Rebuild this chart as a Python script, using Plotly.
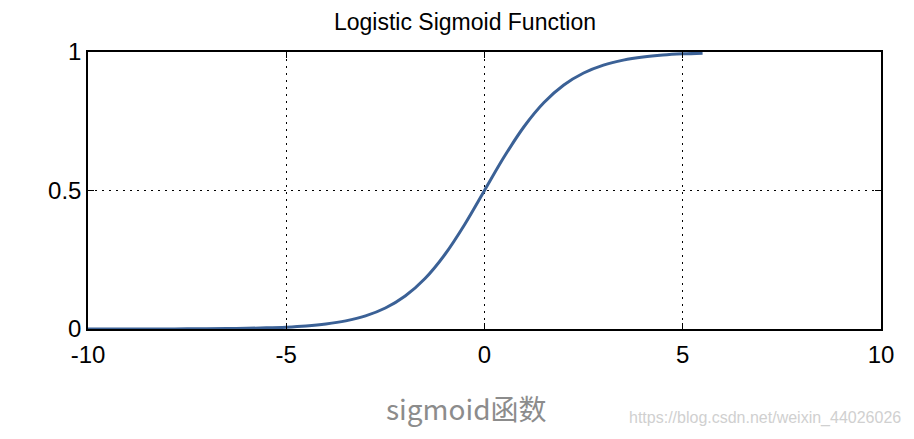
import plotly.graph_objects as go

x_vals = [-10, -9.5, -9, -8.5, -8, -7.5, -7, -6.5, -6, -5.5, -5, -4.5, -4, -3.5,
          -3, -2.5, -2, -1.5, -1, -0.5, 0, 0.5, 1, 1.5, 2, 2.5, 3, 3.5, 4, 4.5, 5, 5.5]
y_vals = [0.0000454, 0.0000749, 0.000123, 0.000203, 0.000335, 0.000553, 0.000911,
          0.0015, 0.00247, 0.00407, 0.00669, 0.0110, 0.0180, 0.0293, 0.0474, 0.0759,
          0.1192, 0.1824, 0.2689, 0.3775, 0.5, 0.6225, 0.7311, 0.8176, 0.8808, 0.9241,
          0.9526, 0.9707, 0.9820, 0.9890, 0.9933, 0.9959]

x_ticks = [-10, -5, 0, 5, 10]
x_tick_labels = ["-10", "-5", "0", "5", "10"]
y_ticks = [0, 0.5, 1]
y_tick_labels = ["0", "0.5", "1"]

LINE_BLUE = "#3b6196"
FONT = "Liberation Sans, Arial, sans-serif"

fig = go.Figure()
fig.add_trace(go.Scatter(
    x=x_vals, y=y_vals, mode="lines", line=dict(color=LINE_BLUE, width=3, shape="spline"),
    hoverinfo="skip", showlegend=False,
))

axis_common = dict(
    showline=True, linecolor="black", linewidth=1.5, mirror="ticks",
    ticks="inside", ticklen=6, tickcolor="black", tickwidth=1,
    showgrid=True, gridcolor="black", griddash="2px,5px", gridwidth=1,
    zeroline=False, tickfont=dict(family=FONT, size=24, color="black"),
)

# page body has an 8px margin, so margins are shifted to compensate
fig.update_layout(
    width=914, height=439,
    margin=dict(l=80, r=41, t=44, b=118),
    paper_bgcolor="white", plot_bgcolor="white",
    title=dict(text="Logistic Sigmoid Function", x=0.5, xanchor="center", y=1 - 14 / 439, yanchor="middle",
               font=dict(family=FONT, size=23, color="black")),
    xaxis=dict(range=[-10, 10], tickvals=x_ticks, ticktext=x_tick_labels, ticklabelstandoff=3, **axis_common),
    yaxis=dict(range=[0, 1], tickvals=y_ticks, ticktext=y_tick_labels, **axis_common),
)

fig.add_annotation(text="sigmoid函数", xref="paper", yref="paper", x=0.4767, xanchor="center",
                   y=-0.285, yanchor="middle", showarrow=False,
                   font=dict(family="Noto Sans CJK SC", size=28, color="#8c8c8c"))
fig.add_annotation(text="https://blog.csdn.net/weixin_44026026", xref="paper", yref="paper",
                   x=1.0277, xanchor="right", y=-0.321, yanchor="middle", showarrow=False,
                   font=dict(family=FONT, size=16, color="#d0d0d0"))

fig.write_html("out.html")
